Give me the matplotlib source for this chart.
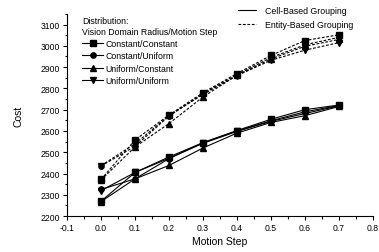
import matplotlib
matplotlib.use("Agg")
import matplotlib.pyplot as plt
from matplotlib.lines import Line2D
from matplotlib.ticker import MultipleLocator

motion_step = [0.0, 0.1, 0.2, 0.3, 0.4, 0.5, 0.6, 0.7]
series_names = ["Constant/Constant", "Constant/Uniform", "Uniform/Constant", "Uniform/Uniform"]
markers = ["s", "o", "^", "v"]

cell_cc = [2270, 2405, 2478, 2545, 2602, 2655, 2700, 2722]
cell_cu = [2325, 2375, 2470, 2545, 2600, 2648, 2690, 2720]
cell_uc = [2268, 2375, 2438, 2520, 2590, 2640, 2672, 2715]
cell_uu = [2320, 2405, 2472, 2542, 2598, 2645, 2682, 2718]

ent_cc = [2372, 2558, 2675, 2780, 2870, 2955, 3025, 3052]
ent_cu = [2435, 2528, 2670, 2775, 2865, 2945, 3005, 3040]
ent_uc = [2370, 2525, 2635, 2760, 2862, 2938, 2998, 3030]
ent_uu = [2437, 2540, 2672, 2772, 2860, 2932, 2980, 3015]

x_ticks = [-0.1, 0.0, 0.1, 0.2, 0.3, 0.4, 0.5, 0.6, 0.7, 0.8]
y_ticks = [2200, 2300, 2400, 2500, 2600, 2700, 2800, 2900, 3000, 3100]

plt.rcParams['font.family'] = ['Liberation Sans', 'DejaVu Sans']

fig = plt.figure(figsize=(3.79, 2.53), dpi=100)
ax = fig.add_axes([0.177, 0.142, 0.807, 0.799])

cell = [cell_cc, cell_cu, cell_uc, cell_uu]
ent = [ent_cc, ent_cu, ent_uc, ent_uu]
dash = (0, (2.5, 1.5))
for vals, m in zip(cell, markers):
    ax.plot(motion_step, vals, color="black", lw=0.8, ls="-", marker=m, ms=3.8)
for vals, m in zip(ent, markers):
    ax.plot(motion_step, vals, color="black", lw=0.8, ls=dash, marker=m, ms=3.8)

ax.set_xlim(-0.1, 0.8)
ax.set_ylim(2200, 3150)
ax.set_xticks(x_ticks)
ax.set_xticklabels([f"{v:.1f}" for v in x_ticks])
ax.set_yticks(y_ticks)
ax.xaxis.set_minor_locator(MultipleLocator(0.05))
ax.yaxis.set_minor_locator(MultipleLocator(50))
ax.tick_params(axis="both", which="major", direction="out", length=3, width=0.8, labelsize=6.2, pad=2)
ax.tick_params(axis="both", which="minor", direction="out", length=1.8, width=0.8)
ax.spines["top"].set_visible(False)
ax.spines["right"].set_visible(False)
ax.spines["left"].set_linewidth(0.8)
ax.spines["bottom"].set_linewidth(0.8)
ax.set_xlabel("Motion Step", fontsize=7.5, labelpad=3)
ax.set_ylabel("Cost", fontsize=7.5, labelpad=12)

handles1 = [Line2D([], [], color="black", lw=0.8, marker=m, ms=3.8) for m in markers]
leg1 = ax.legend(handles1, series_names, title="Distribution:\nVision Domain Radius/Motion Step",
                 loc="upper left", bbox_to_anchor=(0.03, 1.02), frameon=False, fontsize=6.3,
                 title_fontsize=6.3, handlelength=2.4, handletextpad=0.2, labelspacing=0.37,
                 borderpad=0.2)
leg1._legend_box.align = "left"
leg1._legend_box.sep = 2
leg1.get_title().set_linespacing(1.35)
ax.add_artist(leg1)

handles2 = [Line2D([], [], color="black", lw=0.8, ls="-"),
            Line2D([], [], color="black", lw=0.8, ls=dash)]
ax.legend(handles2, ["Cell-Based Grouping", "Entity-Based Grouping"], loc="upper left",
          bbox_to_anchor=(0.54, 1.07), frameon=False, fontsize=6.3, handlelength=2.0,
          handletextpad=1.1, labelspacing=0.6, borderpad=0.2)

fig.savefig("out.png", dpi=100)
